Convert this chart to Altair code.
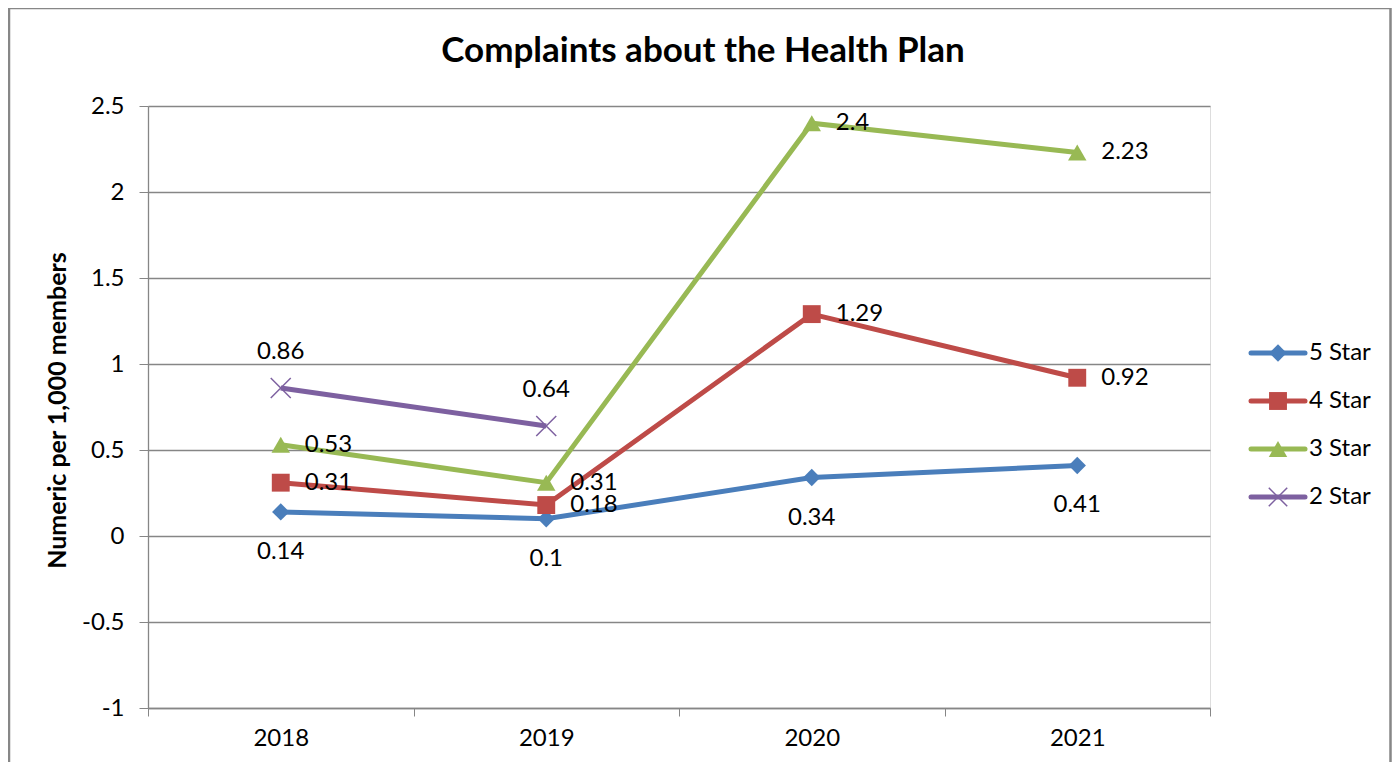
import altair as alt
import pandas as pd

years = ["2018", "2019", "2020", "2021"]
series = ["5 Star", "4 Star", "3 Star", "2 Star"]
star5 = [0.14, 0.1, 0.34, 0.41]
star4 = [0.31, 0.18, 1.29, 0.92]
star3 = [0.53, 0.31, 2.4, 2.23]
star2 = [0.86, 0.64, None, None]
y_ticks = [-1, -0.5, 0, 0.5, 1, 1.5, 2, 2.5]
title_text = "Complaints about the Health Plan"

colors = ["#4A7EBB", "#BE4B48", "#98B954", "#7D60A0"]
FONT = "Lato"
FS = 24

rows = []
for name, vals in zip(series, [star5, star4, star3, star2]):
    for yr, v in zip(years, vals):
        if v is not None:
            rows.append({"year": yr, "series": name, "value": v, "label": str(v)})
df = pd.DataFrame(rows)
leg_df = pd.DataFrame({"series": series})

W, H = 1062, 602

x_enc = alt.X("year:N", bandPosition=0.5,
              scale=alt.Scale(type="band", domain=years, paddingInner=0, paddingOuter=0),
              axis=alt.Axis(title=None, tickBand="extent", labelAngle=0, labelFont=FONT,
                            labelFontSize=FS, labelColor="black", labelPadding=10,
                            tickSize=8, tickColor="#868686", domainColor="#868686",
                            domainWidth=1.3, grid=False))
y_enc = alt.Y("value:Q",
              scale=alt.Scale(domain=[-1, 2.5], nice=False, zero=False),
              axis=alt.Axis(title="Numeric per 1,000 members", values=y_ticks,
                            labelExpr="toString(datum.value)", labelFont=FONT,
                            labelFontSize=FS, labelColor="black", labelPadding=15,
                            tickSize=9, tickColor="#868686", domainColor="#868686",
                            domainWidth=1.3, gridColor="#868686", gridWidth=1.3,
                            titleFont=FONT, titleFontSize=25, titleFontWeight="bold",
                            titleColor="black", titleX=-91, titleY=H / 2 + 3,
                            titleAngle=-90, titleAlign="center", titleBaseline="middle"))
color_enc = alt.Color("series:N", scale=alt.Scale(domain=series, range=colors), legend=None)

base = alt.Chart(df)

lines = base.mark_line(strokeWidth=5).encode(x=x_enc, y=y_enc, color=color_enc, detail="series:N")

shape_scale = alt.Scale(domain=series[:3], range=["diamond", "square", "triangle-up"])
pts = base.transform_filter(alt.datum.series != "2 Star").mark_point(
    filled=True, opacity=1).encode(
    x=x_enc, y="value:Q", color=color_enc,
    shape=alt.Shape("series:N", scale=shape_scale, legend=None),
    size=alt.Size("series:N", scale=alt.Scale(domain=series[:3], range=[300, 340, 460]), legend=None))
xpath = "M-1,-1L1,1M-1,1L1,-1"
pts2 = base.transform_filter(alt.datum.series == "2 Star").mark_point(
    shape=xpath, filled=False, size=400, strokeWidth=1.5, opacity=1).encode(
    x=x_enc, y="value:Q", color=color_enc)

def lab(name, **kw):
    return base.transform_filter(alt.datum.series == name).mark_text(
        font=FONT, fontSize=FS, color="black", baseline="middle", **kw).encode(
        x=x_enc, y="value:Q", text="label:N")

labels = [
    lab("5 Star", align="center", dy=40),
    lab("4 Star", align="left", dx=24),
    lab("3 Star", align="left", dx=24),
    lab("2 Star", align="center", dy=-36),
]

frame = alt.Chart(pd.DataFrame({"k": [0]})).mark_rect(
    fill=None, stroke="#878787", strokeWidth=2.5).encode(
    x=alt.value(-139), x2=alt.value(1242.5), y=alt.value(-98), y2=alt.value(720))

title = alt.Chart(pd.DataFrame({"t": [title_text]})).mark_text(
    font=FONT, fontSize=35, fontWeight="bold", color="black", align="center",
    baseline="alphabetic").encode(x=alt.value(555), y=alt.value(-44), text="t:N")

main = alt.layer(frame, title, lines, pts, pts2, *labels)

# legend
leg_y = alt.Y("series:N", scale=alt.Scale(type="point", padding=0, domain=series, range=[247, 391]), axis=None)
leg_base = alt.Chart(leg_df)
leg_rule = leg_base.mark_rule(strokeWidth=5, strokeCap="round").encode(
    x=alt.value(1103), x2=alt.value(1157), y=leg_y, color=color_enc)
leg_pts = leg_base.transform_filter(alt.datum.series != "2 Star").mark_point(
    filled=True, opacity=1).encode(
    x=alt.value(1130), y=leg_y, color=color_enc,
    shape=alt.Shape("series:N", scale=shape_scale, legend=None),
    size=alt.Size("series:N", scale=alt.Scale(domain=series[:3], range=[240, 300, 380]), legend=None))
leg_x = leg_base.transform_filter(alt.datum.series == "2 Star").mark_point(
    shape=xpath, filled=False, size=340, strokeWidth=1.5, opacity=1).encode(
    x=alt.value(1130), y=leg_y, color=color_enc)
leg_txt = leg_base.mark_text(font=FONT, fontSize=FS, color="black", align="left",
                             baseline="middle").encode(
    x=alt.value(1161), y=leg_y, text="series:N")
legend = alt.layer(leg_rule, leg_pts, leg_x, leg_txt)

chart = alt.layer(main, legend).resolve_scale(y="independent").properties(
    width=W, height=H,
    autosize=alt.AutoSizeParams(type="none"),
    padding={"left": 140, "top": 98, "right": 182, "bottom": 54},
).configure_view(stroke=None).configure(background="white")

chart.save("out.html", embed_options={"renderer": "svg", "actions": False})
